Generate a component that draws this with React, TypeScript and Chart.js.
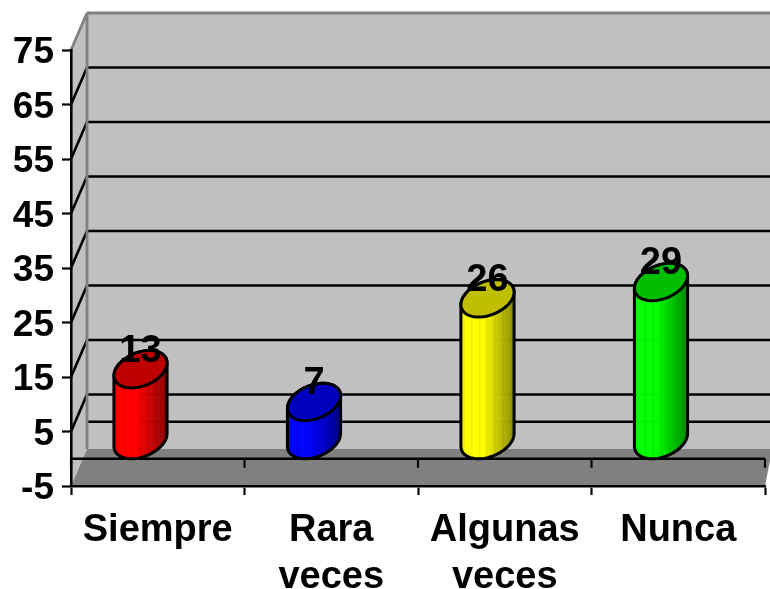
import React, { useEffect, useRef } from "react";
import { Chart, registerables } from "chart.js";

Chart.register(...registerables);

const categories: (string | string[])[] = ["Siempre", ["Rara", "veces"], ["Algunas", "veces"], "Nunca"];
const values = [13, 7, 26, 29];
const barColors = ["#FF0000", "#0000FF", "#FFFF00", "#00FF00"];
const yMin = -5;
const yMax = 75;
const yStep = 10;

const FONT = '"Liberation Sans", Arial, sans-serif';
const DEPTH_X = 16;
const DEPTH_Y = 37;
const CYL_SHIFT = -17.25;
const CYL_A = 25;
const CYL_SKEW = 9;
const CYL_B = 18.7;

function rgb(hex: string, f: number) {
  const n = parseInt(hex.slice(1), 16);
  const r = Math.round(((n >> 16) & 255) * f);
  const g = Math.round(((n >> 8) & 255) * f);
  const b = Math.round((n & 255) * f);
  return `rgb(${r},${g},${b})`;
}

function seg(ctx: CanvasRenderingContext2D, x0: number, y0: number, x1: number, y1: number) {
  ctx.beginPath();
  ctx.moveTo(x0, y0);
  ctx.lineTo(x1, y1);
  ctx.stroke();
}

function ellipsePath(ctx: CanvasRenderingContext2D, cx: number, cy: number) {
  ctx.beginPath();
  for (let i = 0; i <= 72; i++) {
    const t = (i / 72) * Math.PI * 2;
    const x = cx + CYL_A * Math.cos(t) + CYL_SKEW * Math.sin(t);
    const y = cy - CYL_B * Math.sin(t);
    if (i === 0) ctx.moveTo(x, y);
    else ctx.lineTo(x, y);
  }
  ctx.closePath();
}

const room3d = {
  id: "room3d",
  beforeDraw(chart: any) {
    const { ctx, scales, width } = chart;
    const { x, y } = scales;
    // the reference sets its value labels a little below the tick centre
    y.getLabelItems().forEach((it: any) => {
      if (!it.shifted) {
        it.options.translation[1] += 3;
        it.shifted = true;
      }
    });
    const left = x.left;
    const right = x.right;
    const bottom = y.getPixelForValue(yMin);
    const top = y.getPixelForValue(yMax);
    const zero = y.getPixelForValue(0);
    const backLeft = left + DEPTH_X;
    ctx.save();
    ctx.fillStyle = "#C0C0C0";
    ctx.fillRect(backLeft, top - DEPTH_Y, width - backLeft, bottom - top);
    ctx.beginPath();
    ctx.moveTo(left, top);
    ctx.lineTo(backLeft, top - DEPTH_Y);
    ctx.lineTo(backLeft, bottom - DEPTH_Y);
    ctx.lineTo(left, bottom);
    ctx.closePath();
    ctx.fill();

    ctx.strokeStyle = "#000000";
    ctx.lineWidth = 2.6;
    for (let v = yMin + yStep; v < yMax; v += yStep) {
      const p = y.getPixelForValue(v);
      seg(ctx, backLeft, p - DEPTH_Y, width, p - DEPTH_Y);
      seg(ctx, left, p, backLeft, p - DEPTH_Y);
    }
    seg(ctx, backLeft, zero - DEPTH_Y, width, zero - DEPTH_Y);

    ctx.fillStyle = "#808080";
    ctx.beginPath();
    ctx.moveTo(left, bottom);
    ctx.lineTo(backLeft, bottom - DEPTH_Y);
    ctx.lineTo(width, bottom - DEPTH_Y);
    ctx.lineTo(width, bottom - DEPTH_Y * (1 - (width - right) / DEPTH_X));
    ctx.lineTo(right, bottom);
    ctx.closePath();
    ctx.fill();

    ctx.strokeStyle = "#808080";
    ctx.lineWidth = 2.8;
    seg(ctx, left, top, backLeft, top - DEPTH_Y);
    seg(ctx, backLeft, top - DEPTH_Y, width, top - DEPTH_Y);
    seg(ctx, backLeft, top - DEPTH_Y, backLeft, bottom - DEPTH_Y);

    ctx.strokeStyle = "#000000";
    ctx.lineWidth = 2.6;
    seg(ctx, left, zero, right, zero);
    ctx.lineWidth = 2.2;
    const n = categories.length;
    for (let i = 0; i <= n; i++) {
      const px = left + ((right - left) * i) / n;
      seg(ctx, px, zero, px, zero + 9);
    }
    ctx.restore();
  },
  beforeDatasetDraw(chart: any, args: any) {
    const { ctx } = chart;
    const meta = args.meta;
    const ds = chart.data.datasets[args.index];
    ctx.save();
    meta.data.forEach((bar: any, i: number) => {
      const color = ds.backgroundColor[i];
      const cx = bar.x + CYL_SHIFT;
      const topY = bar.y - CYL_B;
      const botY = bar.base - CYL_B;
      const halfW = Math.sqrt(CYL_A * CYL_A + CYL_SKEW * CYL_SKEW);
      const t0 = Math.atan2(CYL_SKEW, CYL_A);

      const silhouette = () => {
        ctx.beginPath();
        for (let k = 0; k <= 36; k++) {
          const t = t0 + (k / 36) * Math.PI;
          const xx = cx + CYL_A * Math.cos(t) + CYL_SKEW * Math.sin(t);
          const yy = topY - CYL_B * Math.sin(t);
          if (k === 0) ctx.moveTo(xx, yy);
          else ctx.lineTo(xx, yy);
        }
        for (let k = 0; k <= 36; k++) {
          const t = t0 + Math.PI + (k / 36) * Math.PI;
          const xx = cx + CYL_A * Math.cos(t) + CYL_SKEW * Math.sin(t);
          const yy = botY - CYL_B * Math.sin(t);
          ctx.lineTo(xx, yy);
        }
        ctx.closePath();
      };

      ctx.save();
      silhouette();
      ctx.clip();
      const bands = 27;
      const bw = (halfW * 2) / bands;
      for (let b = 0; b < bands; b++) {
        const u = (b + 0.5) / bands;
        let f = 1;
        if (u > 0.42) f = 1 - ((u - 0.42) / 0.58) * 0.45;
        if (b % 4 === 1) f *= 0.95;
        ctx.fillStyle = rgb(color, f);
        ctx.fillRect(cx - halfW + b * bw, topY - 30, bw + 0.5, botY - topY + 60);
      }
      ctx.restore();

      ctx.strokeStyle = "#000000";
      ctx.lineWidth = 3;
      ctx.lineJoin = "round";
      silhouette();
      ctx.stroke();

      ellipsePath(ctx, cx, topY);
      ctx.fillStyle = rgb(color, 0.75);
      ctx.fill();
      ctx.stroke();
    });
    ctx.restore();
    return false;
  },
  afterDatasetsDraw(chart: any) {
    const { ctx } = chart;
    const meta = chart.getDatasetMeta(0);
    ctx.save();
    ctx.fillStyle = "#000000";
    ctx.font = `bold 38px ${FONT}`;
    ctx.textAlign = "center";
    ctx.textBaseline = "middle";
    meta.data.forEach((bar: any, i: number) => {
      ctx.fillText(String(values[i]), bar.x + CYL_SHIFT, bar.y - CYL_B - 18);
    });
    ctx.restore();
  },
};

export default function App() {
  const ref = useRef<HTMLCanvasElement>(null);
  useEffect(() => {
    const chart = new Chart(ref.current as HTMLCanvasElement, {
      type: "bar",
      data: {
        labels: categories as any,
        datasets: [{ data: values, backgroundColor: barColors, borderWidth: 0 }],
      },
      options: {
        animation: false,
        responsive: false,
        devicePixelRatio: 1,
        layout: { padding: { top: 50, right: 5, left: 0, bottom: 0 } },
        plugins: { legend: { display: false }, tooltip: { enabled: false }, title: { display: false } },
        scales: {
          x: {
            grid: { display: true, drawOnChartArea: false, drawTicks: true, tickLength: 9, tickWidth: 2.2, tickColor: "#000", offset: true },
            border: { display: true, color: "#000", width: 2.6 },
            ticks: {
              color: "#000",
              autoSkip: false,
              maxRotation: 0,
              minRotation: 0,
              padding: 12,
              font: { family: FONT, weight: "bold", size: 38, lineHeight: 1.24 },
            },
            afterFit: (s: any) => { s.height = 103; },
          },
          y: {
            min: yMin,
            max: yMax,
            ticks: {
              stepSize: yStep,
              color: "#000",
              padding: 8,
              font: { family: FONT, weight: "bold", size: 37 },
            },
            grid: { display: true, drawOnChartArea: false, drawTicks: true, tickLength: 9, tickWidth: 2.2, tickColor: "#000" },
            border: { display: true, color: "#000", width: 2.6 },
            afterFit: (s: any) => { s.width = 71; },
          },
        },
      } as any,
      plugins: [room3d as any],
    });
    return () => chart.destroy();
  }, []);
  return (
    <div style={{ position: "fixed", left: 0, top: 0, width: 770, height: 589, background: "#fff", overflow: "hidden" }}>
      <canvas ref={ref} width={770} height={589} style={{ display: "block" }} />
    </div>
  );
}
